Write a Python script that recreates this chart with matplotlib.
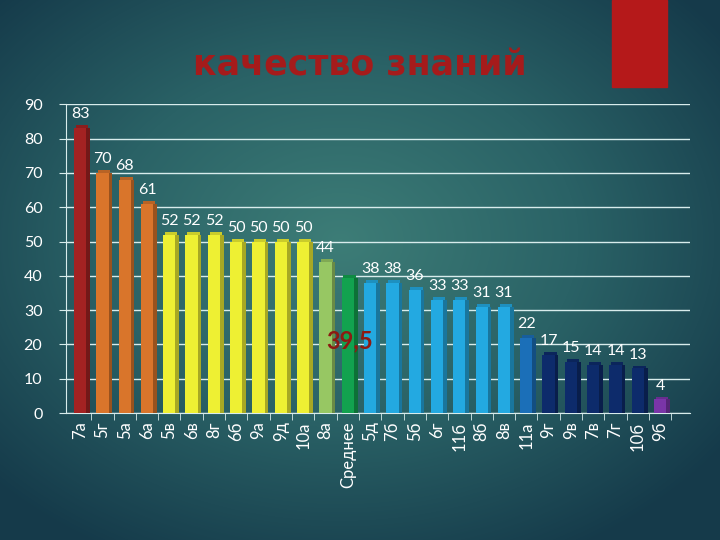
import numpy as np
import matplotlib
matplotlib.use("Agg")
import matplotlib.pyplot as plt
from matplotlib.colors import LinearSegmentedColormap

# Data
classes = ["7а", "5г", "5а", "6а", "5в", "6в", "8г", "6б", "9а", "9д", "10а", "8а",
           "Среднее", "5д", "7б", "5б", "6г", "11б", "8б", "8в", "11а", "9г", "9в",
           "7в", "7г", "10б", "9б"]
values = [83, 70, 68, 61, 52, 52, 52, 50, 50, 50, 50, 44,
          39.5, 38, 38, 36, 33, 33, 31, 31, 22, 17, 15, 14, 14, 13, 4]
colors = ["#a32222", "#d9752b", "#d9752b", "#d9752b",
          "#eef033", "#eef033", "#eef033", "#eef033", "#eef033", "#eef033", "#eef033",
          "#97c763", "#12a24f",
          "#23a9e1", "#23a9e1", "#23a9e1", "#23a9e1", "#23a9e1", "#23a9e1", "#23a9e1",
          "#1b6fb8",
          "#0d2b6b", "#0d2b6b", "#0d2b6b", "#0d2b6b", "#0d2b6b",
          "#7a35a8"]
average_label = "39,5"
title = "качество знаний"

plt.rcParams["font.family"] = ["Lato", "DejaVu Sans"]

fig = plt.figure(figsize=(7.2, 5.4), dpi=100)

# radial teal background
bg = fig.add_axes([0, 0, 1, 1], zorder=-10)
yy, xx = np.mgrid[0:540, 0:720]
r = np.sqrt(((xx - 340) / 560.0) ** 2 + ((yy - 240) / 420.0) ** 2)
cmap = LinearSegmentedColormap.from_list("bg", ["#3d7d77", "#2a6266", "#153a4a"])
bg.imshow(r, cmap=cmap, vmin=0, vmax=0.85, aspect="auto")
bg.axis("off")

# red decoration at top right
fig.patches.append(plt.Rectangle((612 / 720, 453 / 540), 55 / 720, 87 / 540,
                                 transform=fig.transFigure, color="#b5191a", zorder=5))

fig.text(0.5, 0.878, title, ha="center", va="center", fontsize=25,
         fontweight="bold", color="#a51b1b", family=["DejaVu Sans"])

ax = fig.add_axes([0.0917, 0.235, 0.867, 0.572])
ax.patch.set_alpha(0)
x = np.arange(len(classes))


def darker(c, f=0.7):
    rgb = np.array(matplotlib.colors.to_rgb(c))
    return tuple(rgb * f)


w = 0.55
ax.bar(x, values, width=w, color=colors, zorder=3)
# side face for a 3d look
ax.bar(x + w / 2 + 0.08, values, width=0.16, color=[darker(c) for c in colors], zorder=3)
ax.bar(x + 0.08, [0.8] * len(x), bottom=values, width=w, color=[darker(c, 0.85) for c in colors], zorder=3)

for xi, v, name in zip(x, values, classes):
    if name == "Среднее":
        continue
    ax.text(xi, v + 2.0, str(v), ha="center", va="bottom", color="white", fontsize=11.5)

ax.text(x[classes.index("Среднее")] + 0.1, 21, average_label, ha="center", va="center",
        color="#8c1a12", fontsize=17, fontweight="bold")

ax.set_xlim(-0.63, 27.35)
ax.set_ylim(0, 90)
ax.set_yticks(range(0, 91, 10))
ax.set_yticklabels([str(t) for t in range(0, 91, 10)], color="white", fontsize=11.5)
ax.set_xticks(x)
ax.set_xticklabels(classes, rotation=90, color="white", fontsize=12)
ax.set_xticks(x + 0.5, minor=True)
ax.tick_params(axis="x", which="major", length=0, pad=6)
ax.tick_params(axis="x", which="minor", length=5, color="#d8ecec")
ax.tick_params(axis="y", length=5, color="#d8ecec", pad=12)
ax.grid(axis="y", color="#d8ecec", linewidth=1, zorder=0)
for s in ["top", "right"]:
    ax.spines[s].set_visible(False)
ax.spines["left"].set_color("#d8ecec")
ax.spines["bottom"].set_color("#d8ecec")

fig.savefig("out.png", dpi=100)
